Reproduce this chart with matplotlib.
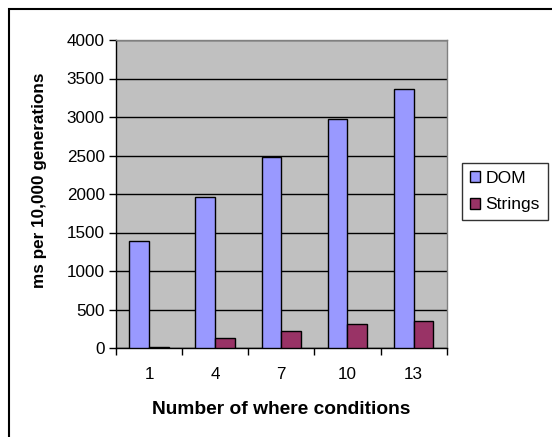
import numpy as np
import matplotlib
matplotlib.use('Agg')
import matplotlib.pyplot as plt
from matplotlib.patches import Rectangle

plt.rcParams['font.family'] = ['Liberation Sans', 'DejaVu Sans']

conditions = ['1', '4', '7', '10', '13']
dom = [1390, 1960, 2480, 2980, 3370]
strings = [15, 130, 220, 310, 350]

fig = plt.figure(figsize=(5.52, 4.37), dpi=100)
ax = fig.add_axes([116/552, 1 - 348/437, (446.7 - 116)/552, (348 - 40)/437])
ax.set_facecolor('#C0C0C0')

x = np.arange(len(conditions))
w = 0.3
ax.bar(x - w/2, dom, w, color='#9999FF', edgecolor='black', linewidth=1, label='DOM', zorder=3)
ax.bar(x + w/2, strings, w, color='#993366', edgecolor='black', linewidth=1, label='Strings', zorder=3)

ax.set_ylim(0, 4000)
ax.set_xlim(-0.5, len(conditions) - 0.5)
ax.set_yticks(np.arange(0, 4001, 500))
ax.yaxis.grid(True, color='black', linewidth=1, zorder=1)
ax.set_axisbelow(True)

ax.set_xticks(x)
ax.set_xticklabels(conditions)
ax.set_xticks(np.arange(-0.5, len(conditions), 1), minor=True)
ax.tick_params(axis='x', which='major', length=0, pad=14, labelsize=12.3)
ax.tick_params(axis='x', which='minor', length=5, direction='out', width=1)
ax.tick_params(axis='y', length=5, direction='out', width=1, labelsize=12.3, pad=3)

for s in ['left', 'bottom']:
    ax.spines[s].set_color('black')
    ax.spines[s].set_linewidth(1)
for s in ['right', 'top']:
    ax.spines[s].set_color('#808080')
    ax.spines[s].set_linewidth(1)

ax.set_xlabel('Number of where conditions', fontsize=13.8, fontweight='bold', labelpad=13)
ax.set_ylabel('ms per 10,000 generations', fontsize=12.3, fontweight='bold')
ax.yaxis.set_label_coords(-0.21, 0.545)

leg = fig.legend(loc='upper left', bbox_to_anchor=(462/552, 1 - 163/437),
                 frameon=True, fancybox=False, edgecolor='black', fontsize=12.6,
                 handlelength=0.6, handleheight=0.6, handletextpad=0.3,
                 borderpad=0.45, labelspacing=0.65, borderaxespad=0)
leg.get_frame().set_linewidth(1)

# outer chart border
fig.patches.append(Rectangle((9/552, -0.1), 1.2, 1 - 9/437 + 0.1, transform=fig.transFigure,
                             fill=False, edgecolor='black', linewidth=1.5))

fig.savefig('out.png', dpi=100)
